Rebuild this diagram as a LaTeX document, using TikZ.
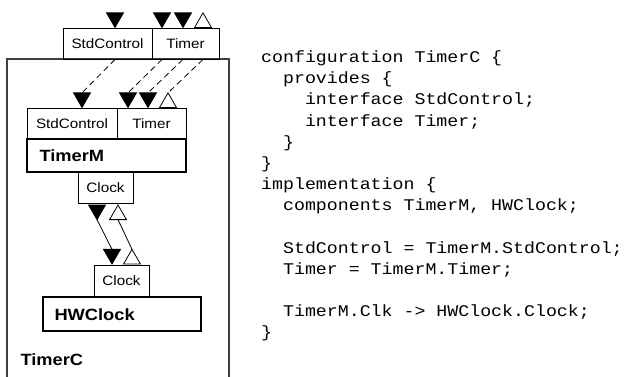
\documentclass[tikz,border=0pt]{standalone}
\usepackage{fontspec}
\setmainfont{Liberation Sans}[FakeStretch=1.12]
\newfontfamily\codefont{Liberation Mono}[FakeStretch=1.12]
\usetikzlibrary{shapes.geometric}

\begin{document}
\begin{tikzpicture}
[
x=1pt, y=-1pt,
Port/.style={rectangle, draw=black, line width=0.9pt, inner sep=0pt, minimum height=31pt,
  font=\fontsize{13.6}{15}\selectfont},
Module/.style={rectangle, draw=black, line width=1.5pt, inner sep=0pt, minimum height=33pt,
  font=\fontsize{16.3}{18}\selectfont\bfseries},
Tri/.style={regular polygon, regular polygon sides=3, draw=black, line width=0.8pt,
  inner sep=0pt, outer sep=0pt, minimum size=19.5pt},
TriDown/.style={Tri, fill=black, shape border rotate=180},
TriUp/.style={Tri, fill=white},
Wire/.style={draw=black, line width=0.8pt},
DashWire/.style={draw=black, line width=0.8pt, dash pattern=on 6pt off 4pt},
Frame/.style={draw=black!75, line width=1.3pt},
]
\useasboundingbox (0,0) rectangle (629,377);

% configuration frame
\draw[Frame] (7,377)--(7,59)--(229,59)--(229,377);
\node[anchor=west, font=\fontsize{16.3}{18}\selectfont\bfseries] (lblC) at (17,360) {TimerC};

% outer interfaces
\node[Port, minimum width=89pt] (oSC) at (107.5,43.5) {StdControl};
\node[Port, minimum width=67pt] (oT)  at (185.5,43.5) {Timer};

\node[TriDown, anchor=south] (tSC) at (115,27.5) {};
\node[TriDown, anchor=south] (tT1) at (162,27.5) {};
\node[TriDown, anchor=south] (tT2) at (183,27.5) {};
\node[TriUp,   anchor=south] (tT3) at (203,27.5) {};

% TimerM
\node[Port, minimum width=90pt] (iSC) at (72,123.5)  {StdControl};
\node[Port, minimum width=69pt] (iT)  at (151.5,123.5) {Timer};
\node[Module, minimum width=159pt] (mTM) at (106.5,155.5) {};
\node[anchor=west, font=\fontsize{16.3}{18}\selectfont\bfseries] (lblTM) at (36,156) {TimerM};
\node[Port, minimum width=55pt] (cA) at (105.5,187.5) {Clock};

\node[TriDown, anchor=south] (uSC) at (82,107.5)  {};
\node[TriDown, anchor=south] (uT1) at (128,107.5) {};
\node[TriDown, anchor=south] (uT2) at (148,107.5) {};
\node[TriUp,   anchor=south] (uT3) at (168,107.5) {};

% HWClock
\node[Port, minimum width=55pt, minimum height=32pt] (cB) at (121.5,281) {Clock};
\node[Module, minimum width=158pt, minimum height=34pt] (mHW) at (122,314) {};
\node[anchor=west, font=\fontsize{16.3}{18}\selectfont\bfseries] (lblHW) at (51,315) {HWClock};

\node[TriDown, anchor=north] (cAf) at (97,205)  {};
\node[TriUp,   anchor=north] (cAo) at (118,205) {};
\node[TriDown, anchor=south] (cBf) at (112,264) {};
\node[TriUp,   anchor=south] (cBo) at (132,264) {};

% equates
\draw[DashWire] (tSC |- oSC.south) -- (uSC.north);
\draw[DashWire] (tT1 |- oT.south) -- (uT1.north);
\draw[DashWire] (tT2 |- oT.south) -- (uT2.north);
\draw[DashWire] (tT3 |- oT.south) -- (uT3.north);

% wiring
\draw[Wire] (cAf.south) -- (cBf.north);
\draw[Wire] (cAo.south) -- (cBo.north);

% source
\node[anchor=base west, inner sep=0pt, font=\fontsize{16.3}{21.15}\selectfont\codefont] (code) at (261,62.7) {%
\begin{tabular}[t]{@{}l@{}}
configuration TimerC \{\\
\phantom{xx}provides \{\\
\phantom{xxxx}interface StdControl;\\
\phantom{xxxx}interface Timer;\\
\phantom{xx}\}\\
\}\\
implementation \{\\
\phantom{xx}components TimerM, HWClock;\\
\\
\phantom{xx}StdControl = TimerM.StdControl;\\
\phantom{xx}Timer = TimerM.Timer;\\
\\
\phantom{xx}TimerM.Clk -> HWClock.Clock;\\
\}
\end{tabular}};

\end{tikzpicture}
\end{document}
